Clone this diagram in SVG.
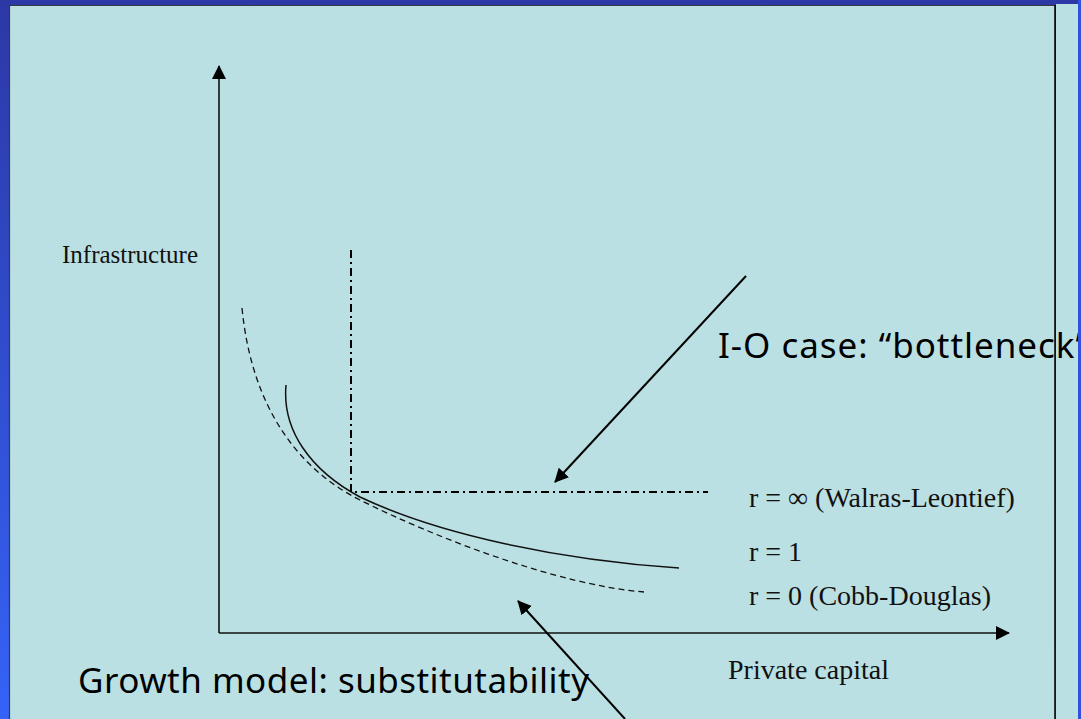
<svg xmlns="http://www.w3.org/2000/svg" width="1081" height="719" viewBox="0 0 1081 719">
<defs>
<linearGradient id="bg" x1="0" y1="0" x2="0" y2="1">
<stop offset="0" stop-color="#2c38a6"/>
<stop offset="1" stop-color="#3563f7"/>
</linearGradient>
<marker id="ah" viewBox="0 0 14 14" refX="13" refY="7" markerWidth="14" markerHeight="14" markerUnits="userSpaceOnUse" orient="auto">
<path d="M0,0 L14,7 L0,14 Z" fill="#000"/>
</marker>
<style>
.serif{font-family:"Liberation Serif","Times New Roman",serif;fill:#111;}
.sans{font-family:"Noto Sans","Open Sans",sans-serif;fill:#000;}
.axis{stroke:#111;stroke-width:1.6;fill:none;}
.dd{stroke:#000;stroke-width:2;fill:none;stroke-dasharray:8 4 2 4;}
.dash{stroke:#111;stroke-width:1.3;fill:none;stroke-dasharray:6 4;}
.solid{stroke:#111;stroke-width:1.5;fill:none;}
.ptr{stroke:#000;stroke-width:2;fill:none;}
</style>
</defs>
<rect x="0" y="0" width="1081" height="719" fill="url(#bg)"/>
<rect x="10" y="5" width="1045" height="714" fill="#bbe0e3"/>
<rect x="1056" y="4" width="22" height="715" fill="#bbe0e3"/>
<line x1="9.5" y1="5" x2="9.5" y2="719" stroke="#3a3a3a" stroke-width="1.2"/>
<line x1="9.5" y1="5.5" x2="1055" y2="5.5" stroke="#3a3a3a" stroke-width="1.2"/>

<g id="labels">
<text id="infrastructure" class="serif" x="62" y="263" font-size="25">Infrastructure</text>
<text id="private-capital" class="serif" x="728" y="679" font-size="28">Private capital</text>
<text id="r-inf" class="serif" x="749" y="507" font-size="28">r = ∞ (Walras-Leontief)</text>
<text id="r-1" class="serif" x="749" y="561" font-size="28">r = 1</text>
<text id="r-0" class="serif" x="749" y="605" font-size="28">r = 0 (Cobb-Douglas)</text>
<text id="growth" class="sans" x="78" y="693" font-size="35" textLength="511">Growth model: substitutability</text>
<text id="io-case" class="sans" x="718" y="358" font-size="35" textLength="370">I-O case: “bottleneck”</text>
</g>

<g id="axes">
<line id="y-axis" class="axis" x1="219" y1="633" x2="219" y2="66" marker-end="url(#ah)"/>
<line id="x-axis" class="axis" x1="219" y1="633" x2="1009" y2="633" marker-end="url(#ah)"/>
</g>

<g id="isoquants">
<path id="leontief" class="dd" d="M351,250 L351,492 L708,492"/>
<path id="cobb-douglas" class="dash" d="M242,308 C252,410 300,470 360,500 C440,540 560,585 644,592"/>
<path id="ces-1" class="solid" d="M286,385 C282,430 310,470 360,497 C440,535 560,560 679,568"/>
</g>

<g id="connectors">
<line id="io-arrow" class="ptr" x1="746" y1="276" x2="555" y2="482" marker-end="url(#ah)"/>
<line id="growth-arrow" class="ptr" x1="625" y1="719" x2="518" y2="601" marker-end="url(#ah)"/>
</g>

<rect x="1078" y="0" width="3" height="719" fill="#3050e0"/>
<line x1="1055" y1="5" x2="1055" y2="719" stroke="#000" stroke-width="1.5"/>
</svg>
